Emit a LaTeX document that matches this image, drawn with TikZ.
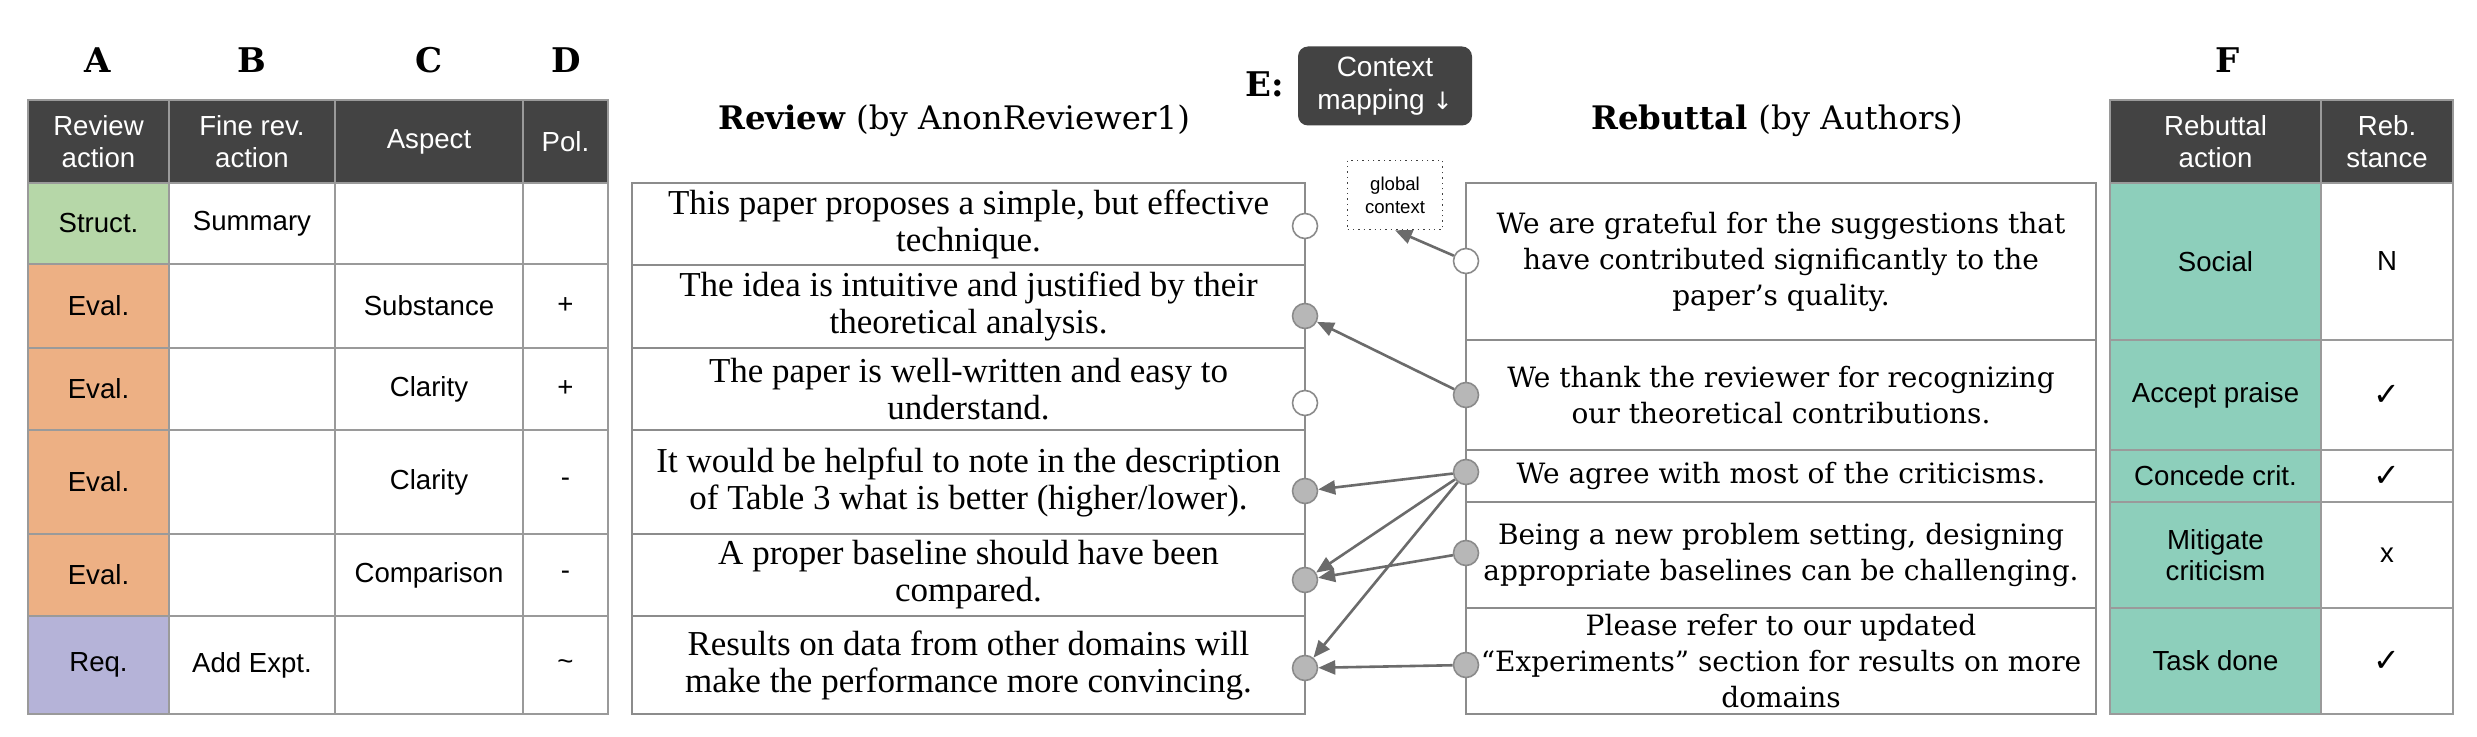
\documentclass[tikz,border=0pt]{standalone}
\usepackage{fontspec}
\setmainfont{Liberation Serif}
\newfontfamily\tabfont{Liberation Sans}
\newfontfamily\rebfont{DejaVu Serif}
\newfontfamily\symfont{DejaVu Sans}
\usetikzlibrary{arrows.meta}
\definecolor{hdr}{HTML}{434343}
\definecolor{cellline}{HTML}{9A9A9A}
\definecolor{boxline}{HTML}{8C8C8C}
\definecolor{cgreen}{HTML}{B6D7A8}
\definecolor{corange}{HTML}{EDB084}
\definecolor{cpurple}{HTML}{B5B3D8}
\definecolor{cteal}{HTML}{8DCFBB}
\definecolor{dotfill}{HTML}{B7B7B7}
\definecolor{dotline}{HTML}{8A8A8A}
\definecolor{linkgray}{HTML}{6B6B6B}
\newcommand\cellat[7]{\node[#6, minimum width={(#4-#2)*0.5pt}, minimum height={(#5-#3)*0.5pt}] (#1) at ({(#2+#4)/2},{(#3+#5)/2}) {#7};}
\begin{document}
\begin{tikzpicture}[x=0.5pt,y=-0.5pt,
  cell/.style={draw=cellline, line width=0.8pt, inner sep=0pt, outer sep=0pt, align=center, font=\tabfont\fontsize{13.8}{15.8}\selectfont},
  hcell/.style={cell, fill=hdr, text=white},
  gcell/.style={cell, fill=cgreen},
  ocell/.style={cell, fill=corange},
  pcell/.style={cell, fill=cpurple},
  tcell/.style={cell, fill=cteal},
  revbox/.style={draw=boxline, line width=0.9pt, inner sep=0pt, outer sep=0pt, align=center, font=\fontsize{17.5}{18.5}\selectfont},
  rebbox/.style={revbox, font=\rebfont\fontsize{14}{18}\selectfont},
  dotnode/.style={circle, draw=dotline, line width=0.8pt, minimum size=12.5pt, inner sep=0pt},
  wdot/.style={dotnode, fill=white},
  gdot/.style={dotnode, fill=dotfill},
  link/.style={draw=linkgray, line width=1.3pt, -{Triangle[length=8.5pt,width=7pt]}},
  colhead/.style={font=\rebfont\bfseries\fontsize{17}{19}\selectfont},
  title/.style={font=\rebfont\fontsize{16.2}{19}\selectfont},
  tick/.style={font=\symfont\fontsize{16}{18}\selectfont}
]
\useasboundingbox (0,0) rectangle (2477,737);
\fill[white] (0,0) rectangle (2477,737);

% column letters
\node[colhead] (lA) at (98,60) {A};
\node[colhead] (lB) at (252,60) {B};
\node[colhead] (lC) at (429,60) {C};
\node[colhead] (lD) at (566,60) {D};
\node[colhead] (lF) at (2228,60) {F};
\node[colhead] (lE) at (1265,84) {E:};

% left table
\cellat{hA}{28}{100}{169}{183}{hcell}{Review\\action}
\cellat{hB}{169}{100}{335}{183}{hcell}{Fine rev.\\action}
\cellat{hC}{335}{100}{523}{183}{hcell}{Aspect}
\cellat{hD}{523}{100}{608}{183}{hcell}{Pol.}

\cellat{a1}{28}{183}{169}{264}{gcell}{Struct.}
\cellat{b1}{169}{183}{335}{264}{cell}{Summary}
\cellat{c1}{335}{183}{523}{264}{cell}{}
\cellat{d1}{523}{183}{608}{264}{cell}{}

\cellat{a2}{28}{264}{169}{348}{ocell}{Eval.}
\cellat{b2}{169}{264}{335}{348}{cell}{}
\cellat{c2}{335}{264}{523}{348}{cell}{Substance}
\cellat{d2}{523}{264}{608}{348}{cell}{+}

\cellat{a3}{28}{348}{169}{430}{ocell}{Eval.}
\cellat{b3}{169}{348}{335}{430}{cell}{}
\cellat{c3}{335}{348}{523}{430}{cell}{Clarity}
\cellat{d3}{523}{348}{608}{430}{cell}{+}

\cellat{a4}{28}{430}{169}{534}{ocell}{Eval.}
\cellat{b4}{169}{430}{335}{534}{cell}{}
\cellat{c4}{335}{430}{523}{534}{cell}{Clarity}
\cellat{d4}{523}{430}{608}{534}{cell}{-}

\cellat{a5}{28}{534}{169}{616}{ocell}{Eval.}
\cellat{b5}{169}{534}{335}{616}{cell}{}
\cellat{c5}{335}{534}{523}{616}{cell}{Comparison}
\cellat{d5}{523}{534}{608}{616}{cell}{-}

\cellat{a6}{28}{616}{169}{714}{pcell}{Req.}
\cellat{b6}{169}{616}{335}{714}{cell}{Add Expt.}
\cellat{c6}{335}{616}{523}{714}{cell}{}
\cellat{d6}{523}{616}{608}{714}{cell}{\textasciitilde}

% titles
\node[title] (revtitle) at (954,121) {\textbf{Review} (by AnonReviewer1)};
\node[title] (rebtitle) at (1777,121) {\textbf{Rebuttal} (by Authors)};

% context mapping
\node[fill=hdr, rounded corners=5pt, minimum width=87pt, minimum height=39.5pt, inner sep=0pt, align=center, text=white, font=\tabfont\fontsize{14}{16.5}\selectfont] (ctx) at (1385,86) {Context\\mapping {\symfont\fontsize{12}{14}\selectfont ↓}};
\node[draw=black!75, dotted, line width=0.7pt, minimum width=47.5pt, minimum height=34.5pt, inner sep=0pt, align=center, font=\tabfont\fontsize{9.3}{11.5}\selectfont] (gc) at (1395,195) {global\\context};

% review boxes
\cellat{rv1}{632}{183}{1305}{265}{revbox}{This paper proposes a simple, but effective\\technique.}
\cellat{rv2}{632}{265}{1305}{348}{revbox}{The idea is intuitive and justified by their\\theoretical analysis.}
\cellat{rv3}{632}{348}{1305}{430}{revbox}{The paper is well-written and easy to\\understand.}
\cellat{rv4}{632}{430}{1305}{534}{revbox}{It would be helpful to note in the description\\of Table 3 what is better (higher/lower).}
\cellat{rv5}{632}{534}{1305}{616}{revbox}{A proper baseline should have been\\compared.}
\cellat{rv6}{632}{616}{1305}{714}{revbox}{Results on data from other domains will\\make the performance more convincing.}

% rebuttal boxes
\cellat{rb1}{1466}{183}{2096}{340}{rebbox}{We are grateful for the suggestions that\\have contributed significantly to the\\paper’s quality.}
\cellat{rb2}{1466}{340}{2096}{450}{rebbox}{We thank the reviewer for recognizing\\our theoretical contributions.}
\cellat{rb3}{1466}{450}{2096}{502}{rebbox}{We agree with most of the criticisms.}
\cellat{rb4}{1466}{502}{2096}{608}{rebbox}{Being a new problem setting, designing\\appropriate baselines can be challenging.}
\cellat{rb5}{1466}{608}{2096}{714}{rebbox}{Please refer to our updated\\“Experiments” section for results on more\\domains}

% right table
\cellat{hR1}{2110}{100}{2321}{183}{hcell}{Rebuttal\\action}
\cellat{hR2}{2321}{100}{2453}{183}{hcell}{Reb.\\stance}
\cellat{f1}{2110}{183}{2321}{340}{tcell}{Social}
\cellat{g1}{2321}{183}{2453}{340}{cell}{N}
\cellat{f2}{2110}{340}{2321}{450}{tcell}{Accept praise}
\cellat{g2}{2321}{340}{2453}{450}{cell, tick}{✓}
\cellat{f3}{2110}{450}{2321}{502}{tcell}{Concede crit.}
\cellat{g3}{2321}{450}{2453}{502}{cell, tick}{✓}
\cellat{f4}{2110}{502}{2321}{608}{tcell}{Mitigate\\criticism}
\cellat{g4}{2321}{502}{2453}{608}{cell}{x}
\cellat{f5}{2110}{608}{2321}{714}{tcell}{Task done}
\cellat{g5}{2321}{608}{2453}{714}{cell, tick}{✓}

% circles
\node[wdot] (vc1) at (1305,226) {};
\node[gdot] (vc2) at (1305,316) {};
\node[wdot] (vc3) at (1305,403) {};
\node[gdot] (vc4) at (1305,491) {};
\node[gdot] (vc5) at (1305,580) {};
\node[gdot] (vc6) at (1305,668) {};
\node[wdot] (rc1) at (1466,261) {};
\node[gdot] (rc2) at (1466,395) {};
\node[gdot] (rc3) at (1466,472) {};
\node[gdot] (rc4) at (1466,553) {};
\node[gdot] (rc5) at (1466,665) {};

% links
\draw[link] (rc1) -- (gc.south);
\draw[link] (rc2) -- (vc2);
\draw[link] (rc3) -- (vc4);
\draw[link] (rc3) -- (vc5);
\draw[link] (rc3) -- (vc6);
\draw[link] (rc4) -- (vc5);
\draw[link] (rc5) -- (vc6);
\end{tikzpicture}
\end{document}
